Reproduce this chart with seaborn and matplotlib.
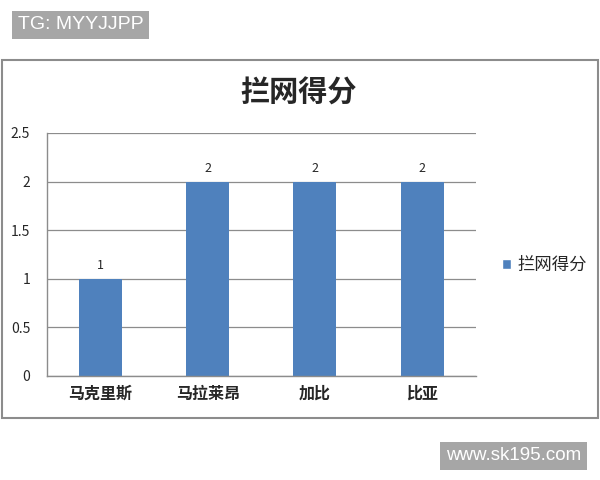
import pandas as pd
import seaborn as sns
import matplotlib.pyplot as plt
from matplotlib.patches import Patch, Rectangle

# dados do gráfico
jogadores = ["马克里斯", "马拉莱昂", "加比", "比亚"]
pontos = [1, 2, 2, 2]
serie = "拦网得分"
yticks = [0, 0.5, 1, 1.5, 2, 2.5]
ytick_labels = ["0", "0.5", "1", "1.5", "2", "2.5"]

tabela = pd.DataFrame({"jogador": jogadores, "pontos": pontos})

sns.set_style("white")
plt.rcParams["font.family"] = ["Noto Sans CJK SC", "DejaVu Sans"]

azul = "#4F81BD"
cinza = "#8c8c8c"

fig = plt.figure(figsize=(6, 4.8), dpi=100)

# moldura do gráfico
fig.patches.append(Rectangle((0.003, 0.129), 0.994, 0.746, transform=fig.transFigure,
                             fill=False, edgecolor=cinza, linewidth=1.5))

ax = fig.add_axes([0.078, 0.2167, 0.715, 0.5063])
sns.barplot(data=tabela, x="jogador", y="pontos", color=azul, width=0.4,
            saturation=1, linewidth=0, ax=ax)

ax.set_ylim(0, 2.5)
ax.set_xlim(-0.5, 3.5)
ax.set_yticks(yticks)
ax.set_yticklabels(ytick_labels, fontsize=10)
ax.yaxis.grid(True, color=cinza, linewidth=0.9)
ax.set_axisbelow(True)
ax.set_xlabel("")
ax.set_ylabel("")
ax.tick_params(axis="x", which="major", length=0, labelsize=11.5, pad=7)
ax.set_xticks([-0.5, 0.5, 1.5, 2.5, 3.5], minor=True)
ax.tick_params(axis="x", which="minor", length=4, color=cinza, direction="out")
ax.tick_params(axis="y", length=4, color=cinza, direction="out", pad=8)
for t in ax.get_xticklabels():
    t.set_fontweight("bold")
for lado in ["top", "right"]:
    ax.spines[lado].set_visible(False)
for lado in ["left", "bottom"]:
    ax.spines[lado].set_color(cinza)
    ax.spines[lado].set_linewidth(1)

ax.bar_label(ax.containers[0], labels=[str(v) for v in pontos], padding=5, fontsize=9)

fig.text(0.497, 0.808, serie, ha="center", va="center", fontsize=21, fontweight="bold")

fig.legend(handles=[Patch(facecolor=azul, label=serie)], loc="center left",
           bbox_to_anchor=(0.81, 0.448), frameon=False, fontsize=12.5,
           handlelength=0.55, handleheight=0.55, handletextpad=0.35)

# marcas d'água
fig.text(0.03, 0.948, "TG: MYYJJPP", ha="left", va="center", fontsize=14, color="white",
         family=["Liberation Sans", "DejaVu Sans"],
         bbox=dict(boxstyle="square,pad=0.3", facecolor="#a6a6a6", edgecolor="none"))
fig.text(0.743, 0.05, "www.sk195.com", ha="left", va="center", fontsize=13.5, color="white",
         family=["Liberation Sans", "DejaVu Sans"],
         bbox=dict(boxstyle="square,pad=0.3", facecolor="#a6a6a6", edgecolor="none"))

fig.savefig("out.png", dpi=100)
